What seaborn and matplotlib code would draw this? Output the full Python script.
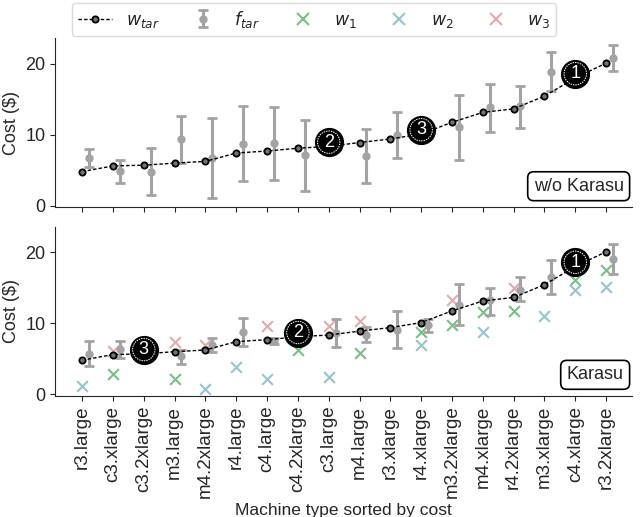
import numpy as np
import matplotlib
matplotlib.use('Agg')
import matplotlib.pyplot as plt
import seaborn as sns
from matplotlib.lines import Line2D

sns.set_style('ticks')
plt.rcParams['font.family'] = ['Liberation Sans', 'DejaVu Sans']
plt.rcParams['mathtext.fontset'] = 'dejavusans'

machines = ['r3.large', 'c3.xlarge', 'c3.2xlarge', 'm3.large', 'm4.2xlarge', 'r4.large',
            'c4.large', 'c4.2xlarge', 'c3.large', 'm4.large', 'r3.xlarge', 'r4.xlarge',
            'm3.2xlarge', 'm4.xlarge', 'r4.2xlarge', 'm3.xlarge', 'c4.xlarge', 'r3.2xlarge']

# target workload cost (same in both panels)
w_tar = [4.8, 5.6, 5.7, 6.0, 6.24, 7.42, 7.7, 8.1, 8.35, 8.9,
         9.4, 10.1, 11.75, 13.15, 13.65, 15.45, 18.0, 20.1]

# predicted cost f_tar, mean and error range - without Karasu
f_top = [6.77, 4.87, 4.78, 9.36, 6.77, 8.75, 8.84, 7.09, 8.6, 7.05,
         9.93, 10.4, 11.06, 13.86, 14.0, 18.9, 18.3, 20.85]
f_top_lo = [5.39, 3.26, 1.47, 5.96, 1.09, 3.45, 3.59, 2.03, 7.8, 3.26,
            6.67, 9.6, 6.38, 10.35, 11.0, 16.1, 17.5, 19.05]
f_top_hi = [7.94, 6.43, 8.18, 12.7, 12.3, 14.0, 13.9, 12.1, 9.4, 10.8,
            13.2, 11.2, 15.6, 17.2, 16.9, 21.7, 19.1, 22.65]

# predicted cost f_tar - with Karasu
f_bot = [5.67, 6.38, 6.2, 5.35, 6.95, 8.84, 7.52, 8.6, 8.6, 8.37,
         9.12, 9.79, 12.6, 13.3, 14.75, 16.55, 18.4, 19.05]
f_bot_lo = [3.92, 5.15, 5.5, 4.2, 5.91, 6.8, 7.05, 7.9, 6.67, 7.33,
            6.48, 8.75, 9.79, 11.2, 13.1, 14.2, 17.6, 17.0]
f_bot_hi = [7.47, 7.52, 6.9, 6.29, 7.99, 10.8, 7.9, 9.3, 10.6, 9.46,
            11.67, 10.64, 15.5, 15.0, 16.5, 18.9, 19.2, 21.2]

nan = np.nan
w1 = [nan, 2.84, nan, 2.22, nan, nan, nan, 6.24, nan, 5.77,
      nan, 8.84, 9.7, 11.6, 11.8, nan, 16.1, 17.5]
w2 = [1.18, nan, nan, nan, 0.8, 3.87, 2.22, nan, 2.5, nan,
      nan, 6.95, nan, 8.75, nan, 11.0, 14.75, 15.1]
w3 = [nan, 6.1, nan, 7.33, 6.95, nan, 9.6, nan, 9.6, 10.26,
      nan, nan, 13.3, nan, 15.0, nan, nan, nan]

# rank badges: machine index -> rank label
ranks_top = {8: '2', 11: '3', 16: '1'}
ranks_bot = {2: '3', 7: '2', 16: '1'}

c_w1 = '#7dbd88'
c_w2 = '#97c4cb'
c_w3 = '#e0abb0'
c_f = '#a3a3a3'

x = np.arange(len(machines))

fig, (ax1, ax2) = plt.subplots(2, 1, figsize=(6.4, 5.17), dpi=100, sharex=True)
fig.subplots_adjust(left=0.086, right=0.988, top=0.926, bottom=0.234, hspace=0.115)


def badge(ax, i, y, label):
    ax.scatter([i], [y + 0.6], s=400, color='black', zorder=6)
    ax.scatter([i], [y + 0.6], s=260, facecolor='none', edgecolor='white',
               linewidth=0.7, linestyle=(0, (1.5, 1)), zorder=7)
    ax.text(i, y + 0.6, label, color='white', ha='center', va='center',
            fontsize=13, zorder=8)


def panel(ax, f, lo, hi, ranks, tag, crosses):
    if crosses:
        for vals, col in [(w1, c_w1), (w2, c_w2), (w3, c_w3)]:
            sns.scatterplot(x=x, y=vals, marker='x', color=col, s=60,
                            linewidth=1.5, ax=ax, zorder=2)
    f = np.array(f)
    err = [f - np.array(lo), np.array(hi) - f]
    eb = ax.errorbar(x + 0.22, f, yerr=err, fmt='o', color=c_f, ms=5,
                     elinewidth=2.2, capsize=3.5, capthick=2, zorder=3)
    sns.lineplot(x=x, y=w_tar, ax=ax, color='black', linestyle=(0, (2.5, 1.5)),
                 lw=1, marker='o', ms=4.5, mfc='0.45', mec='black', mew=1.3,
                 zorder=4)
    for i, lab in ranks.items():
        badge(ax, i, w_tar[i], lab)
    ax.text(0.985, 0.075, tag, transform=ax.transAxes, ha='right', va='bottom',
            fontsize=13,
            bbox=dict(boxstyle='round,pad=0.33', fc='white', ec='black', lw=1.2))
    ax.set_ylim(-0.25, 23.6)
    ax.set_yticks([0, 10, 20])
    ax.set_ylabel('Cost ($)', fontsize=13)
    ax.tick_params(labelsize=13, colors='0.15')
    return eb


eb = panel(ax1, f_top, f_top_lo, f_top_hi, ranks_top, 'w/o Karasu', False)
panel(ax2, f_bot, f_bot_lo, f_bot_hi, ranks_bot, 'Karasu', True)

ax2.set_xlim(-0.88, 17.85)
ax2.set_xticks(x)
ax2.set_xticklabels(machines, rotation=90, fontsize=13.5)
ax2.set_xlabel('Machine type sorted by cost', fontsize=12.5, labelpad=3)
ax1.tick_params(axis='x', labelbottom=False)
sns.despine(fig)

h_w = Line2D([], [], color='black', linestyle=(0, (2.5, 1.5)), lw=1, marker='o',
             ms=4.5, mfc='0.45', mec='black', mew=1.3)
h_1 = Line2D([], [], color=c_w1, marker='x', ls='none', ms=8, mew=1.5)
h_2 = Line2D([], [], color=c_w2, marker='x', ls='none', ms=8, mew=1.5)
h_3 = Line2D([], [], color=c_w3, marker='x', ls='none', ms=8, mew=1.5)
fig.legend([h_w, eb, h_1, h_2, h_3],
           ['$w_{tar}$', '$f_{tar}$', '$w_1$', '$w_2$', '$w_3$'],
           loc='upper left', bbox_to_anchor=(0.112, 0.995), borderaxespad=0,
           ncol=5, fontsize=12.5, frameon=True, fancybox=True, edgecolor='0.82',
           columnspacing=1.45, handlelength=2.0, handletextpad=0.8,
           borderpad=0.35, numpoints=1)

plt.savefig('out.png', dpi=100)
